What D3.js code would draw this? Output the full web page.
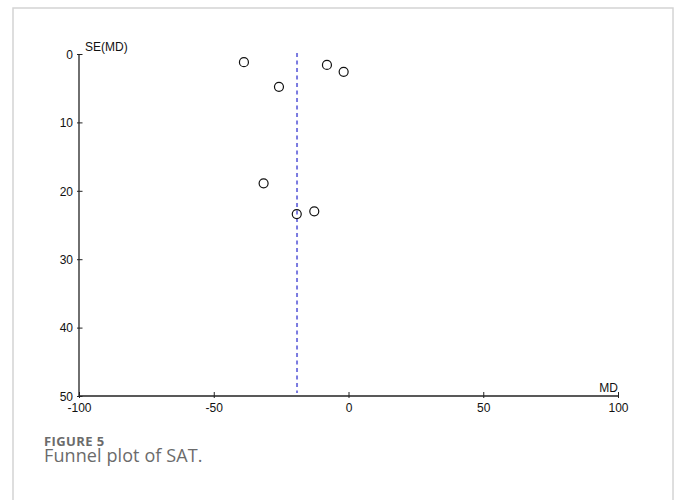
<!DOCTYPE html>
<html><head><meta charset="utf-8">
<script src="https://cdn.jsdelivr.net/npm/d3@7"></script>
<style>
html,body{margin:0;padding:0;background:#fff;}
svg{display:block;}
</style></head>
<body>
<svg id="chart" width="676" height="500"></svg>
<script>
const studyMD = [-38.8, -8.0, -1.8, -25.8, -31.5, -19.2, -12.7];
const studySE = [1.2, 1.6, 2.6, 4.8, 18.9, 23.4, 23.0];
const pooledMD = -19.1;
const xTicks = [-100, -50, 0, 50, 100];
const yTicks = [0, 10, 20, 30, 40, 50];
const xLabel = "MD";
const yLabel = "SE(MD)";
const captionTitle = "FIGURE 5";
const captionText = "Funnel plot of SAT.";

const svg = d3.select("#chart");
const FONT = "Arial, 'Liberation Sans', sans-serif";
// frame
svg.append("rect").attr("x",13).attr("y",8).attr("width",660).attr("height",500)
  .attr("fill","none").attr("stroke","#d4d4d4").attr("stroke-width",1.5);

const x = d3.scaleLinear().domain([-100,100]).range([79,618]);
const y = d3.scaleLinear().domain([0,50]).range([54,396]);

const g = svg.append("g");

// x axis
const xAxis = g.append("g").attr("transform",`translate(0,${y(50)})`)
  .call(d3.axisBottom(x).tickValues(xTicks).tickSize(3).tickFormat(d => String(d)));
xAxis.attr("font-family",FONT).attr("font-size",12);
xAxis.select(".domain").attr("d",`M${x(-100)},0H${x(100)}`).attr("stroke","#222").attr("stroke-width",1.3);
xAxis.selectAll(".tick line").attr("y1",-4).attr("y2",2).attr("stroke","#222");
xAxis.selectAll(".tick text").attr("y",7).attr("dy","0.71em").attr("fill","#111");

// y axis
const yAxis = g.append("g").attr("transform",`translate(${x(-100)},0)`)
  .call(d3.axisLeft(y).tickValues(yTicks).tickSize(3).tickFormat(d => String(d)));
yAxis.attr("font-family",FONT).attr("font-size",12);
yAxis.select(".domain").attr("d",`M0,${y(0)}V${y(50)}`).attr("stroke","#222").attr("stroke-width",1.3);
yAxis.selectAll(".tick line").attr("x1",-2).attr("x2",3.5).attr("stroke","#222");
yAxis.selectAll(".tick text").attr("x",-6).attr("dy","0.35em").attr("fill","#111");

g.append("text").attr("x",x(-100)+6).attr("y",y(0)-3).attr("font-family",FONT).attr("font-size",12).attr("fill","#111").text(yLabel);
g.append("text").attr("x",x(100)).attr("y",y(50)-4).attr("text-anchor","end").attr("font-family",FONT).attr("font-size",12).attr("fill","#111").text(xLabel);

// pooled line
g.append("line").attr("x1",x(pooledMD)).attr("x2",x(pooledMD))
  .attr("y1",y(0)-1).attr("y2",y(50)-3)
  .attr("stroke","#7b7be0").attr("stroke-width",2).attr("stroke-dasharray","4,3.5");

// points
g.selectAll("circle.pt").data(studyMD.map((m,i)=>({m,s:studySE[i]}))).join("circle")
  .attr("class","pt").attr("cx",d=>x(d.m)).attr("cy",d=>y(d.s)).attr("r",4.5)
  .attr("fill","none").attr("stroke","#111").attr("stroke-width",1.2);

// caption
svg.append("text").attr("x",44).attr("y",445.5).attr("font-family","'Open Sans', sans-serif")
  .attr("font-weight","bold").attr("font-size",13).attr("letter-spacing",0.4).attr("fill","#6b6b6b").text(captionTitle);
svg.append("text").attr("x",44).attr("y",462).attr("font-family","'Open Sans', sans-serif")
  .attr("font-size",18).attr("letter-spacing",0.1).attr("fill","#6b6b6b").text(captionText);
</script>
</body></html>
